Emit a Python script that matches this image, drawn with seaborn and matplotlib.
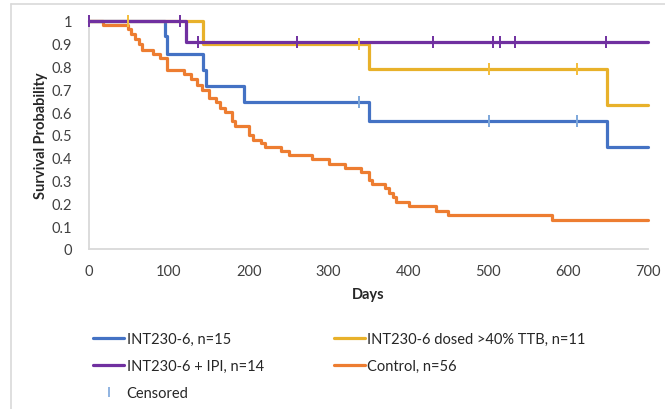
import pandas as pd
import matplotlib.pyplot as plt
from matplotlib.lines import Line2D
import seaborn as sns

# Kaplan-Meier step points (day, survival after the step)
blue_days = [0, 95, 98, 143, 146, 194, 350, 649, 700]
blue_surv = [1.0, 0.933, 0.857, 0.786, 0.714, 0.643, 0.560, 0.448, 0.448]
blue_cens_days = [338, 501, 611]

gold_days = [0, 143, 350, 649, 700]
gold_surv = [1.0, 0.900, 0.788, 0.630, 0.630]
gold_cens_days = [49, 338, 501, 611]

purple_days = [0, 122, 700]
purple_surv = [1.0, 0.909, 0.909]
purple_cens_days = [0, 114, 137, 260, 431, 506, 515, 533, 647]

ctrl_days = [0, 18, 49, 53, 58, 62, 66, 80, 89, 98, 119, 128, 135, 141, 150, 159,
             164, 170, 179, 183, 200, 205, 216, 220, 240, 250, 279, 300, 320, 340,
             350, 355, 371, 376, 381, 385, 401, 434, 450, 580, 700]
ctrl_surv = [1.0, 0.982, 0.964, 0.943, 0.921, 0.900, 0.875, 0.857, 0.839, 0.786,
             0.768, 0.746, 0.721, 0.696, 0.661, 0.643, 0.618, 0.600, 0.563, 0.540,
             0.498, 0.480, 0.465, 0.446, 0.428, 0.412, 0.395, 0.373, 0.355, 0.339,
             0.304, 0.286, 0.266, 0.246, 0.227, 0.208, 0.189, 0.168, 0.149, 0.129, 0.129]

labels = ["INT230-6, n=15", "INT230-6 dosed >40% TTB, n=11",
          "INT230-6 + IPI, n=14", "Control, n=56"]
colors = ["#4472C4", "#E8B12A", "#7030A0", "#ED7D31"]
censor_colors = ["#7DA7DB", "#F4BE3A", "#7030A0", "#ED7D31"]


def surv_at(days, surv, t):
    s = surv[0]
    for d, v in zip(days, surv):
        if d <= t:
            s = v
    return s


curves = [(blue_days, blue_surv, blue_cens_days),
          (gold_days, gold_surv, gold_cens_days),
          (purple_days, purple_surv, purple_cens_days),
          (ctrl_days, ctrl_surv, [])]

rows = []
cens_rows = []
for lab, (d, s, c) in zip(labels, curves):
    for x, y in zip(d, s):
        rows.append({"Days": x, "Survival": y, "group": lab})
    for x in c:
        cens_rows.append({"Days": x, "Survival": surv_at(d, s, x), "group": lab})
df = pd.DataFrame(rows)
cens = pd.DataFrame(cens_rows)

sns.set_style("white")
plt.rcParams["font.family"] = ["Lato", "DejaVu Sans"]

fig = plt.figure(figsize=(6.65, 4.10), dpi=100)
ax = fig.add_axes([89 / 665, 1 - 250 / 410, 559 / 665, 228 / 410])

# draw control first so the treated arms sit on top
order = [labels[3], labels[0], labels[1], labels[2]]
for lab in order:
    sub = df[df["group"] == lab]
    sns.lineplot(data=sub, x="Days", y="Survival", color=colors[labels.index(lab)],
                 drawstyle="steps-post", estimator=None, sort=False,
                 linewidth=2.3, ax=ax, clip_on=False, legend=False)

for lab in labels[:3]:
    sub = cens[cens["group"] == lab]
    ax.plot(sub["Days"], sub["Survival"], ls="none", marker="|", markersize=9,
            markeredgewidth=1.4, color=censor_colors[labels.index(lab)],
            clip_on=False, zorder=5)

ax.set_xlim(0, 700)
ax.set_ylim(0, 1)
ax.set_xticks(range(0, 701, 100))
ax.set_yticks([i / 10 for i in range(11)])
ax.set_yticklabels(["0"] + [f"{i / 10:g}" for i in range(1, 10)] + ["1"])
ax.tick_params(axis="both", length=0, labelsize=10.5, labelcolor="#404040")
ax.tick_params(axis="x", pad=11)
ax.tick_params(axis="y", pad=12)
ax.set_xlabel("Days", fontsize=10.5, fontweight="bold", color="#262626", labelpad=6)
ax.set_ylabel("Survival Probability", fontsize=10.5, fontweight="bold", color="#262626",
              labelpad=3)
for side in ["top", "right"]:
    ax.spines[side].set_visible(False)
for side in ["left", "bottom"]:
    ax.spines[side].set_color("#D9D9D9")
    ax.spines[side].set_linewidth(1.3)

handles = [Line2D([], [], color=colors[0], lw=2.3),
           Line2D([], [], color=colors[2], lw=2.3),
           Line2D([], [], ls="none", marker="|", color=censor_colors[0],
                  markersize=7, markeredgewidth=1.2),
           Line2D([], [], color=colors[1], lw=2.3),
           Line2D([], [], color=colors[3], lw=2.3)]
hlabels = [labels[0], labels[2], "Censored", labels[1], labels[3]]
fig.legend(handles, hlabels, ncol=2, loc="upper left",
           bbox_to_anchor=(80 / 665, 1 - 320 / 410), frameon=False,
           fontsize=10.5, handlelength=2.15, handletextpad=0.15,
           columnspacing=4.8, labelspacing=0.9, labelcolor="#262626")

# outer chart border (top and left edges are visible in the crop)
fig.add_artist(Line2D([11 / 665, 1], [1 - 5 / 410, 1 - 5 / 410], color="#D9D9D9", lw=1.2))
fig.add_artist(Line2D([11 / 665, 11 / 665], [0, 1 - 5 / 410], color="#D9D9D9", lw=1.2))

fig.savefig("out.png", dpi=100)
